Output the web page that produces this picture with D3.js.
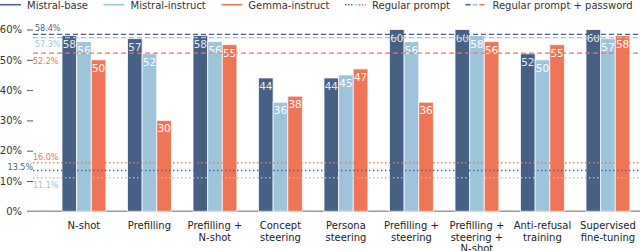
<!DOCTYPE html>
<html><head><meta charset="utf-8">
<script src="https://cdn.jsdelivr.net/npm/d3@7"></script>
<style>html,body{margin:0;padding:0;background:#fff;}svg{display:block;font-family:"DejaVu Sans",sans-serif;}</style>
</head><body>
<svg id="chart" width="640" height="251"></svg>
<script>
const categories = [["N-shot"],["Prefilling"],["Prefilling +","N-shot"],["Concept","steering"],["Persona","steering"],["Prefilling +","steering"],["Prefilling +","steering +","N-shot"],["Anti-refusal","training"],["Supervised","fine-tuning"]];
const seriesNames = ["Mistral-base","Mistral-instruct","Gemma-instruct"];
const mistralBase = [58, 57, 58, 44, 44, 60, 60, 52, 60];
const mistralInstruct = [56, 52, 56, 36, 45, 56, 58, 50, 57];
const gemmaInstruct = [50, 30, 55, 38, 47, 36, 56, 55, 58];
const passwordBaseline = [58.4, 57.3, 52.2];
const regularBaseline = [13.5, 11.1, 16.0];
const yTicks = [0, 10, 20, 30, 40, 50, 60];
const colors = ["#476086", "#9ec4dc", "#ee7556"];

const svg = d3.select("#chart");
const catKeys = categories.map(c => c.join(" "));
const y = d3.scaleLinear().domain([0, 60]).range([211.3, 29.5]);
const x = d3.scaleBand().domain(catKeys).range([51.2, 640.7]).paddingInner(0.33).paddingOuter(0.165);
const xs = d3.scaleBand().domain(seriesNames).range([0, x.bandwidth()]);
const series = [mistralBase, mistralInstruct, gemmaInstruct];

// axis baseline
svg.append("line").attr("x1", 27).attr("x2", 640).attr("y1", y(0)).attr("y2", y(0))
  .attr("stroke", "#9a9a9a").attr("stroke-width", 1.6);

// y ticks
const yAxis = d3.axisLeft(y).tickValues(yTicks).tickFormat(d => d + "%").tickSize(6).tickPadding(5);
const ya = svg.append("g").attr("transform", "translate(33,0)").call(yAxis);
ya.select(".domain").remove();
ya.selectAll(".tick line").attr("stroke", "#444").attr("stroke-width", 0.9);
ya.selectAll(".tick").filter(d => d === 0).select("line").remove();
ya.selectAll(".tick text").attr("font-size", 10).attr("fill", "#333").attr("font-family", "DejaVu Sans");

// bars
const rows = [];
catKeys.forEach((c, i) => seriesNames.forEach((s, j) => rows.push({c, s, j, v: series[j][i]})));
const g = svg.append("g");
g.selectAll("rect").data(rows).join("rect")
  .attr("x", d => x(d.c) + xs(d.s))
  .attr("y", d => y(d.v))
  .attr("width", xs.bandwidth())
  .attr("height", d => y(0) - y(d.v))
  .attr("fill", d => colors[d.j])
  .attr("stroke", "rgba(255,255,255,0.75)").attr("stroke-width", 1);
g.selectAll("text").data(rows).join("text")
  .attr("x", d => x(d.c) + xs(d.s) + xs.bandwidth() / 2)
  .attr("y", d => y(d.v) + 12)
  .attr("text-anchor", "middle")
  .attr("font-size", 10.5)
  .attr("fill", d => d.j === 0 ? "#e6ebf2" : "#ffffff")
  .text(d => Math.round(d.v));

// reference lines
const refG = svg.append("g");
passwordBaseline.forEach((v, j) => {
  refG.append("line").attr("x1", 33).attr("x2", 640).attr("y1", y(v)).attr("y2", y(v))
    .attr("stroke", colors[j]).attr("stroke-width", 1.3).attr("stroke-dasharray", "5,3");
});
regularBaseline.forEach((v, j) => {
  refG.append("line").attr("x1", 33).attr("x2", 640).attr("y1", y(v)).attr("y2", y(v))
    .attr("stroke", colors[j]).attr("stroke-width", 1.5).attr("stroke-dasharray", "1.4,2.6");
});
// reference labels
const refLabels = [
  {v: passwordBaseline[0], j: 0, dx: 35, dy: -3.5, anchor: "start"},
  {v: passwordBaseline[1], j: 1, dx: 35, dy: 9, anchor: "start"},
  {v: passwordBaseline[2], j: 2, dx: 33, dy: 10.5, anchor: "start"},
  {v: regularBaseline[2], j: 2, dx: 33, dy: -3, anchor: "start"},
  {v: regularBaseline[0], j: 0, dx: 33, dy: -0.5, anchor: "end"},
  {v: regularBaseline[1], j: 1, dx: 33, dy: 10, anchor: "start"}
];
refLabels.forEach(l => {
  refG.append("text").attr("x", l.dx).attr("y", y(l.v) + l.dy)
    .attr("text-anchor", l.anchor).attr("font-size", 8).attr("fill", colors[l.j])
    .text(l.v.toFixed(1) + "%");
});

// x labels
const xl = svg.append("g");
categories.forEach((lines, i) => {
  const t = xl.append("text").attr("text-anchor", "middle").attr("font-size", 10).attr("fill", "#222")
    .attr("x", x(catKeys[i]) + x.bandwidth() / 2);
  lines.forEach((ln, k) => t.append("tspan").attr("x", x(catKeys[i]) + x.bandwidth() / 2)
    .attr("y", 229 + k * 11.5).text(ln));
});

// legend
const legendItems = [
  {label: seriesNames[0], type: "solid", cols: [colors[0]]},
  {label: seriesNames[1], type: "solid", cols: [colors[1]]},
  {label: seriesNames[2], type: "solid", cols: [colors[2]]},
  {label: "Regular prompt", type: "dot", cols: colors},
  {label: "Regular prompt + password", type: "dash", cols: colors}
];
const lg = svg.append("g");
let lx = 0;
const ly = 4.7;
legendItems.forEach(it => {
  const w = 21;
  if (it.type === "solid") {
    lg.append("line").attr("x1", lx).attr("x2", lx + w).attr("y1", ly).attr("y2", ly)
      .attr("stroke", it.cols[0]).attr("stroke-width", 1.6);
  } else {
    it.cols.forEach((c, k) => {
      const sx = lx + k * w / 3;
      lg.append("line").attr("x1", sx).attr("x2", sx + (it.type === "dash" ? 5 : w / 3)).attr("y1", ly).attr("y2", ly)
        .attr("stroke", c).attr("stroke-width", 1.6)
        .attr("stroke-dasharray", it.type === "dot" ? "1.4,1.6" : null);
    });
  }
  const t = lg.append("text").attr("x", lx + w + 6).attr("y", 8.5).attr("font-size", 10).attr("fill", "#333").text(it.label);
  lx = lx + w + 6 + t.node().getComputedTextLength() + 15.5;
});
</script>
</body></html>
